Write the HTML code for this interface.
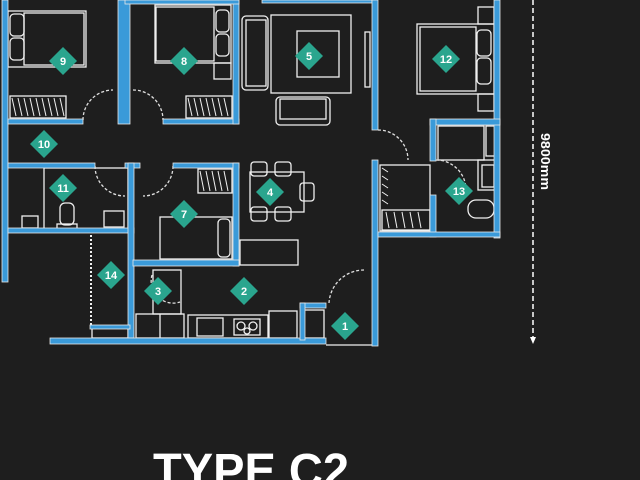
<!DOCTYPE html>
<html><head><meta charset="utf-8"><style>
html,body{margin:0;padding:0;background:#1e1e1e;width:640px;height:480px;overflow:hidden}
svg{display:block}
</style></head><body>
<svg width="640" height="480" viewBox="0 0 640 480" xmlns="http://www.w3.org/2000/svg">
<rect width="640" height="480" fill="#1e1e1e"/>
<g fill="none" stroke="#f0f0f0" stroke-width="1.3">
 <rect x="8" y="11" width="78" height="56"/><rect x="24" y="13" width="60" height="52"/>
 <rect x="10" y="14" width="14" height="22" rx="4"/><rect x="10" y="38" width="14" height="22" rx="4"/>
 <rect x="10" y="96" width="56" height="22"/>
 <rect x="155" y="5" width="76" height="58"/><rect x="156" y="7" width="58" height="54"/>
 <rect x="216" y="10" width="13" height="22" rx="4"/><rect x="216" y="34" width="13" height="22" rx="4"/>
 <rect x="214" y="63" width="17" height="16"/>
 <rect x="186" y="96" width="46" height="22"/>
 <rect x="242" y="16" width="26" height="74" rx="4"/><rect x="246" y="20" width="20" height="66"/>
 <rect x="271" y="15" width="80" height="78"/><rect x="297" y="31" width="42" height="46"/>
 <rect x="276" y="97" width="54" height="28" rx="4"/><rect x="280" y="99" width="46" height="20"/>
 <rect x="365" y="32" width="5" height="55"/>
 <rect x="417" y="24" width="77" height="70"/><rect x="420" y="27" width="56" height="64"/>
 <rect x="477" y="30" width="14" height="26" rx="4"/><rect x="477" y="58" width="14" height="26" rx="4"/>
 <rect x="478" y="7" width="16" height="17"/><rect x="478" y="94" width="16" height="17"/>
 <rect x="438" y="126" width="46" height="34"/><rect x="486" y="126" width="10" height="30"/>
 <rect x="478" y="160" width="18" height="30"/><rect x="482" y="165" width="12" height="22"/>
 <rect x="468" y="200" width="26" height="18" rx="8"/>
 <rect x="380" y="165" width="50" height="66"/><rect x="382" y="210" width="48" height="20"/>
 <rect x="198" y="169" width="34" height="24"/>
 <rect x="250" y="172" width="54" height="40"/>
 <rect x="251" y="162" width="16" height="14" rx="3"/><rect x="275" y="162" width="16" height="14" rx="3"/>
 <rect x="251" y="207" width="16" height="14" rx="3"/><rect x="275" y="207" width="16" height="14" rx="3"/>
 <rect x="300" y="183" width="14" height="18" rx="3"/>
 <rect x="240" y="240" width="58" height="25"/>
 <rect x="160" y="217" width="72" height="42"/><rect x="218" y="219" width="12" height="38" rx="4"/>
 <rect x="136" y="314" width="48" height="24"/><line x1="160" y1="314" x2="160" y2="338"/>
 <rect x="188" y="315" width="80" height="23"/>
 <rect x="197" y="318" width="26" height="18"/><rect x="234" y="319" width="26" height="16"/>
 <circle cx="241" cy="326" r="4"/><circle cx="253" cy="326" r="4"/><circle cx="247" cy="331" r="3"/>
 <rect x="269" y="311" width="28" height="27"/>
 <rect x="304" y="310" width="20" height="28"/>
 <rect x="104" y="211" width="20" height="16"/><rect x="22" y="216" width="16" height="12"/>
 <rect x="60" y="203" width="14" height="22" rx="5"/><rect x="57" y="224" width="20" height="6"/>
 <rect x="44" y="168" width="84" height="62"/>
 <rect x="92" y="328" width="36" height="10"/>
 <rect x="153" y="270" width="28" height="44"/>
 <line x1="326" y1="345" x2="378" y2="345"/>
 <line x1="91" y1="235" x2="91" y2="325" stroke-dasharray="2,2" stroke-width="2"/>
</g>
<g stroke="#f0f0f0" stroke-width="1">
 <path d="M12 98 l4 18 M18 98 l4 18 M24 98 l4 18 M30 98 l4 18 M36 98 l4 18 M42 98 l4 18 M48 98 l4 18 M54 98 l4 18 M60 98 l4 18"/>
 <path d="M188 98 l4 18 M194 98 l4 18 M200 98 l4 18 M206 98 l4 18 M212 98 l4 18 M218 98 l4 18 M224 98 l4 18"/>
 <path d="M200 171 l4 20 M206 171 l4 20 M212 171 l4 20 M218 171 l4 20 M224 171 l4 20"/>
 <path d="M382 168 l6 4 M382 176 l6 4 M382 184 l6 4 M382 192 l6 4 M382 200 l6 4 M386 212 l3 16 M394 212 l3 16 M402 212 l3 16 M410 212 l3 16 M418 212 l3 16"/>
</g>
<g fill="none" stroke="#e0e0e0" stroke-width="1.3" stroke-dasharray="3,2">
 <path d="M83 120 A30 30 0 0 1 113 90"/><path d="M133 90 A30 30 0 0 1 163 120"/>
 <path d="M95 166 A30 30 0 0 0 125 196"/><path d="M173 166 A30 30 0 0 1 143 196"/>
 <path d="M378 130 A30 30 0 0 1 408 160"/><path d="M436 160 A30 30 0 0 1 466 190"/>
 <path d="M329 303 A35 35 0 0 1 364 270"/><path d="M152 275 A22 22 0 0 0 180 302"/>
</g>
<g fill="#3a9ad9" stroke="#e8e8e8" stroke-width="0.8">
 <rect x="2" y="0" width="6" height="282"/>
 <rect x="8" y="119" width="75" height="5"/><rect x="163" y="119" width="76" height="5"/>
 <rect x="118" y="0" width="12" height="124"/>
 <rect x="233" y="0" width="6" height="124"/><rect x="125" y="0" width="114" height="4"/>
 <rect x="262" y="0" width="110" height="3"/>
 <rect x="372" y="0" width="6" height="130"/><rect x="372" y="160" width="6" height="186"/>
 <rect x="494" y="0" width="6" height="238"/>
 <rect x="430" y="119" width="70" height="6"/><rect x="430" y="119" width="6" height="42"/>
 <rect x="430" y="195" width="6" height="42"/><rect x="378" y="232" width="122" height="5"/>
 <rect x="8" y="163" width="87" height="5"/><rect x="125" y="163" width="15" height="5"/><rect x="173" y="163" width="66" height="5"/>
 <rect x="233" y="163" width="6" height="103"/>
 <rect x="8" y="228" width="126" height="5"/><rect x="128" y="163" width="6" height="175"/>
 <rect x="133" y="260" width="106" height="6"/>
 <rect x="90" y="325" width="40" height="4"/>
 <rect x="50" y="338" width="276" height="6"/>
 <rect x="300" y="303" width="26" height="5"/><rect x="300" y="303" width="5" height="37"/>
</g>
<line x1="533" y1="0" x2="533" y2="338" stroke="#fff" stroke-width="1.5" stroke-dasharray="5,3"/>
<path d="M530 337 L533 344 L536 337 Z" fill="#fff"/>
<text transform="translate(541,133) rotate(90)" fill="#fff" font-family="Liberation Sans, sans-serif" font-size="13" font-weight="bold" textLength="57" lengthAdjust="spacingAndGlyphs">9800mm</text>
<g font-family="Liberation Sans, sans-serif" font-size="11" font-weight="bold" fill="#fff" text-anchor="middle">
 <g transform="translate(63,61)"><path d="M0 -14 L14 0 L0 14 L-14 0Z" fill="#2aa58e"/><text y="4">9</text></g>
 <g transform="translate(184,61)"><path d="M0 -14 L14 0 L0 14 L-14 0Z" fill="#2aa58e"/><text y="4">8</text></g>
 <g transform="translate(309,56)"><path d="M0 -14 L14 0 L0 14 L-14 0Z" fill="#2aa58e"/><text y="4">5</text></g>
 <g transform="translate(446,59)"><path d="M0 -14 L14 0 L0 14 L-14 0Z" fill="#2aa58e"/><text y="4">12</text></g>
 <g transform="translate(44,144)"><path d="M0 -14 L14 0 L0 14 L-14 0Z" fill="#2aa58e"/><text y="4">10</text></g>
 <g transform="translate(63,188)"><path d="M0 -14 L14 0 L0 14 L-14 0Z" fill="#2aa58e"/><text y="4">11</text></g>
 <g transform="translate(270,192)"><path d="M0 -14 L14 0 L0 14 L-14 0Z" fill="#2aa58e"/><text y="4">4</text></g>
 <g transform="translate(184,214)"><path d="M0 -14 L14 0 L0 14 L-14 0Z" fill="#2aa58e"/><text y="4">7</text></g>
 <g transform="translate(459,191)"><path d="M0 -14 L14 0 L0 14 L-14 0Z" fill="#2aa58e"/><text y="4">13</text></g>
 <g transform="translate(111,275)"><path d="M0 -14 L14 0 L0 14 L-14 0Z" fill="#2aa58e"/><text y="4">14</text></g>
 <g transform="translate(158,291)"><path d="M0 -14 L14 0 L0 14 L-14 0Z" fill="#2aa58e"/><text y="4">3</text></g>
 <g transform="translate(244,291)"><path d="M0 -14 L14 0 L0 14 L-14 0Z" fill="#2aa58e"/><text y="4">2</text></g>
 <g transform="translate(345,326)"><path d="M0 -14 L14 0 L0 14 L-14 0Z" fill="#2aa58e"/><text y="4">1</text></g>
</g>
<text x="153" y="487" fill="#fff" font-family="Liberation Sans, sans-serif" font-size="48" font-weight="bold" textLength="196" lengthAdjust="spacingAndGlyphs">TYPE C2</text>
</svg>
</body></html>
